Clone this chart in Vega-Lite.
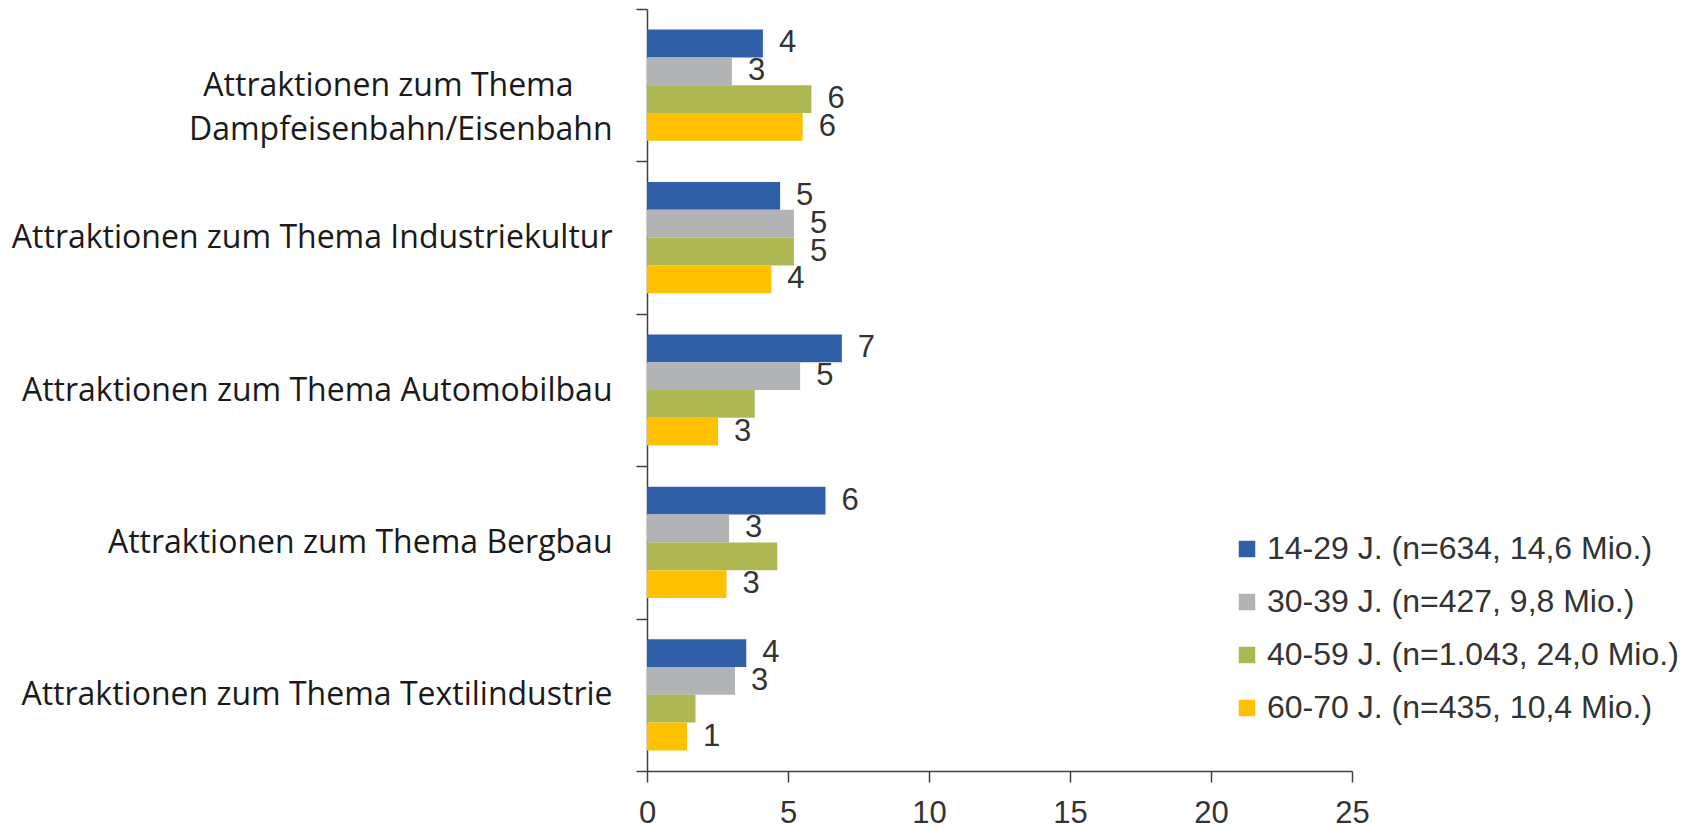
{
  "$schema": "https://vega.github.io/schema/vega-lite/v6.json",
  "autosize": {"type": "none"},
  "padding": {"left": 647, "top": 9, "right": 344, "bottom": 58},
  "width": 705,
  "height": 762,
  "background": "#ffffff",
  "config": {"view": {"stroke": null}},
  "data": {
    "values": [
      {"thema": "Attraktionen zum Thema Dampfeisenbahn/Eisenbahn", "gruppe": "14-29 J. (n=634, 14,6 Mio.)", "wert": 4.11, "label": "4"},
      {"thema": "Attraktionen zum Thema Dampfeisenbahn/Eisenbahn", "gruppe": "30-39 J. (n=427, 9,8 Mio.)", "wert": 3.01, "label": "3"},
      {"thema": "Attraktionen zum Thema Dampfeisenbahn/Eisenbahn", "gruppe": "40-59 J. (n=1.043, 24,0 Mio.)", "wert": 5.83, "label": "6"},
      {"thema": "Attraktionen zum Thema Dampfeisenbahn/Eisenbahn", "gruppe": "60-70 J. (n=435, 10,4 Mio.)", "wert": 5.52, "label": "6"},
      {"thema": "Attraktionen zum Thema Industriekultur", "gruppe": "14-29 J. (n=634, 14,6 Mio.)", "wert": 4.72, "label": "5"},
      {"thema": "Attraktionen zum Thema Industriekultur", "gruppe": "30-39 J. (n=427, 9,8 Mio.)", "wert": 5.21, "label": "5"},
      {"thema": "Attraktionen zum Thema Industriekultur", "gruppe": "40-59 J. (n=1.043, 24,0 Mio.)", "wert": 5.21, "label": "5"},
      {"thema": "Attraktionen zum Thema Industriekultur", "gruppe": "60-70 J. (n=435, 10,4 Mio.)", "wert": 4.41, "label": "4"},
      {"thema": "Attraktionen zum Thema Automobilbau", "gruppe": "14-29 J. (n=634, 14,6 Mio.)", "wert": 6.91, "label": "7"},
      {"thema": "Attraktionen zum Thema Automobilbau", "gruppe": "30-39 J. (n=427, 9,8 Mio.)", "wert": 5.43, "label": "5"},
      {"thema": "Attraktionen zum Thema Automobilbau", "gruppe": "40-59 J. (n=1.043, 24,0 Mio.)", "wert": 3.82, "label": ""},
      {"thema": "Attraktionen zum Thema Automobilbau", "gruppe": "60-70 J. (n=435, 10,4 Mio.)", "wert": 2.52, "label": "3"},
      {"thema": "Attraktionen zum Thema Bergbau", "gruppe": "14-29 J. (n=634, 14,6 Mio.)", "wert": 6.33, "label": "6"},
      {"thema": "Attraktionen zum Thema Bergbau", "gruppe": "30-39 J. (n=427, 9,8 Mio.)", "wert": 2.91, "label": "3"},
      {"thema": "Attraktionen zum Thema Bergbau", "gruppe": "40-59 J. (n=1.043, 24,0 Mio.)", "wert": 4.62, "label": ""},
      {"thema": "Attraktionen zum Thema Bergbau", "gruppe": "60-70 J. (n=435, 10,4 Mio.)", "wert": 2.82, "label": "3"},
      {"thema": "Attraktionen zum Thema Textilindustrie", "gruppe": "14-29 J. (n=634, 14,6 Mio.)", "wert": 3.52, "label": "4"},
      {"thema": "Attraktionen zum Thema Textilindustrie", "gruppe": "30-39 J. (n=427, 9,8 Mio.)", "wert": 3.12, "label": "3"},
      {"thema": "Attraktionen zum Thema Textilindustrie", "gruppe": "40-59 J. (n=1.043, 24,0 Mio.)", "wert": 1.72, "label": ""},
      {"thema": "Attraktionen zum Thema Textilindustrie", "gruppe": "60-70 J. (n=435, 10,4 Mio.)", "wert": 1.42, "label": "1"}
    ]
  },
  "encoding": {
    "y": {
      "field": "thema",
      "type": "nominal",
      "sort": null,
      "scale": {"paddingInner": 0, "paddingOuter": 0},
      "axis": {
        "title": null,
        "tickBand": "extent",
        "tickSize": 11,
        "tickColor": "#404040",
        "domainColor": "#404040",
        "domainWidth": 1.5,
        "tickWidth": 1.5,
        "labelFont": "Open Sans",
        "labelFontSize": 32,
        "labelColor": "#1a1a1a",
        "labelPadding": 24,
        "labelLimit": 700,
        "labelLineHeight": 44,
        "labelExpr": "datum.label == 'Attraktionen zum Thema Dampfeisenbahn/Eisenbahn' ? ['Attraktionen zum Thema\u2002\u2800', 'Dampfeisenbahn/Eisenbahn'] : datum.label"
      }
    },
    "yOffset": {
      "field": "gruppe",
      "type": "nominal",
      "sort": ["14-29 J. (n=634, 14,6 Mio.)", "30-39 J. (n=427, 9,8 Mio.)", "40-59 J. (n=1.043, 24,0 Mio.)", "60-70 J. (n=435, 10,4 Mio.)"],
      "scale": {"paddingInner": 0, "paddingOuter": 0.74}
    },
    "x": {
      "field": "wert",
      "type": "quantitative",
      "scale": {"domain": [0, 25], "nice": false},
      "axis": {
        "title": null,
        "values": [0, 5, 10, 15, 20, 25],
        "grid": false,
        "tickSize": 11,
        "tickColor": "#404040",
        "domainColor": "#404040",
        "domainWidth": 1.5,
        "tickWidth": 1.5,
        "labelFont": "Liberation Sans",
        "labelFontSize": 31,
        "labelColor": "#333333",
        "labelPadding": 16,
        "labelFlush": false
      }
    }
  },
  "layer": [
    {
      "mark": {"type": "bar"},
      "encoding": {
        "color": {
          "field": "gruppe",
          "type": "nominal",
          "sort": ["14-29 J. (n=634, 14,6 Mio.)", "30-39 J. (n=427, 9,8 Mio.)", "40-59 J. (n=1.043, 24,0 Mio.)", "60-70 J. (n=435, 10,4 Mio.)"],
          "scale": {
            "domain": ["14-29 J. (n=634, 14,6 Mio.)", "30-39 J. (n=427, 9,8 Mio.)", "40-59 J. (n=1.043, 24,0 Mio.)", "60-70 J. (n=435, 10,4 Mio.)"],
            "range": ["#2F5FA7", "#B2B3B5", "#ADB852", "#FFC000"]
          },
          "legend": {
            "title": null,
            "orient": "none",
            "legendX": 584,
            "legendY": 524,
            "padding": 0,
            "symbolType": "square",
            "symbolSize": 272,
            "symbolStrokeWidth": 0,
            "labelFont": "Liberation Sans",
            "labelFontSize": 32,
            "labelColor": "#333333",
            "labelOffset": 4,
            "labelLimit": 600,
            "rowPadding": 21
          }
        }
      }
    },
    {
      "mark": {"type": "text", "align": "left", "baseline": "middle", "dx": 16, "font": "Liberation Sans", "fontSize": 31, "color": "#333333"},
      "encoding": {
        "text": {"field": "label", "type": "nominal"}
      }
    }
  ]
}
